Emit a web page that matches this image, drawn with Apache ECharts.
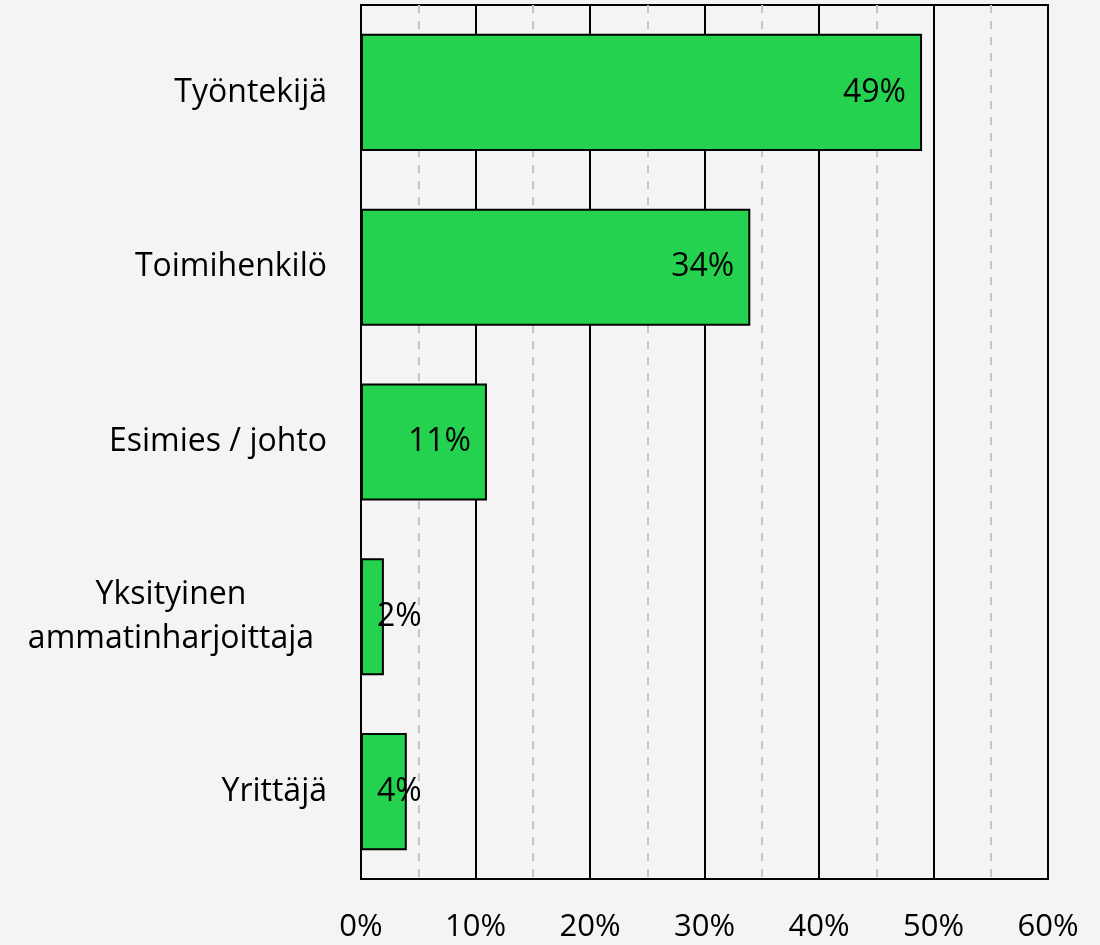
<!DOCTYPE html>
<html>
<head>
<meta charset="utf-8">
<script src="https://cdn.jsdelivr.net/npm/echarts@6/dist/echarts.min.js"></script>
<style>
  html, body { margin: 0; padding: 0; background: #f4f4f4; }
  #box { width: 1100px; height: 945px; }
</style>
</head>
<body>
<div id="box"></div>
<script>
const categories = ['Työntekijä', 'Toimihenkilö', 'Esimies / johto', 'Yksityinen\nammatinharjoittaja', 'Yrittäjä']
const values = [49, 34, 11, 2, 4]
const xTicks = [0, 10, 20, 30, 40, 50, 60]

const font = 'Open Sans'
const chart = echarts.init(document.getElementById('box'))

chart.setOption({
  backgroundColor: '#f4f4f4',
  animation: false,
  grid: {
    left: 361, right: 52, top: 5, bottom: 66,
    show: true, borderColor: '#000', borderWidth: 2, backgroundColor: 'transparent'
  },
  xAxis: {
    type: 'value',
    min: xTicks[0],
    max: xTicks[xTicks.length - 1],
    interval: 10,
    axisLine: { show: true, lineStyle: { color: '#000', width: 2 } },
    axisTick: { show: false },
    axisLabel: {
      formatter: '{value}%',
      color: '#000', fontFamily: font, fontSize: 31, margin: 33
    },
    splitLine: { show: true, lineStyle: { color: '#000', width: 2 } },
    minorTick: { show: false, splitNumber: 2 },
    minorSplitLine: { show: true, lineStyle: { color: '#c6c6c6', width: 2, type: [8, 8] } }
  },
  yAxis: {
    type: 'category',
    inverse: true,
    data: categories,
    axisLine: { show: true, lineStyle: { color: '#000', width: 2 } },
    axisTick: { show: false },
    axisLabel: {
      color: '#000', fontFamily: font, fontSize: 32, margin: 34, lineHeight: 44,
      // monirivinen nimi keskitetään
      formatter: v => v.indexOf('\n') < 0 ? v : v.split('\n').map(s => '{c|' + s + '}').join('\n'),
      rich: { c: { width: 312, align: 'center', fontFamily: font, fontSize: 32, lineHeight: 44, color: '#000' } }
    }
  },
  series: [{
    type: 'bar',
    barWidth: '67%',
    data: values.map(v => ({
      value: v,
      label: v < 8 ? { position: 'insideLeft', distance: 16 } : { position: 'insideRight', distance: 16 }
    })),
    itemStyle: { color: '#24d24f', borderColor: '#000', borderWidth: 2 },
    label: {
      show: true, formatter: '{c}%', color: '#000', fontFamily: font, fontSize: 32
    }
  }]
})
</script>
</body>
</html>
